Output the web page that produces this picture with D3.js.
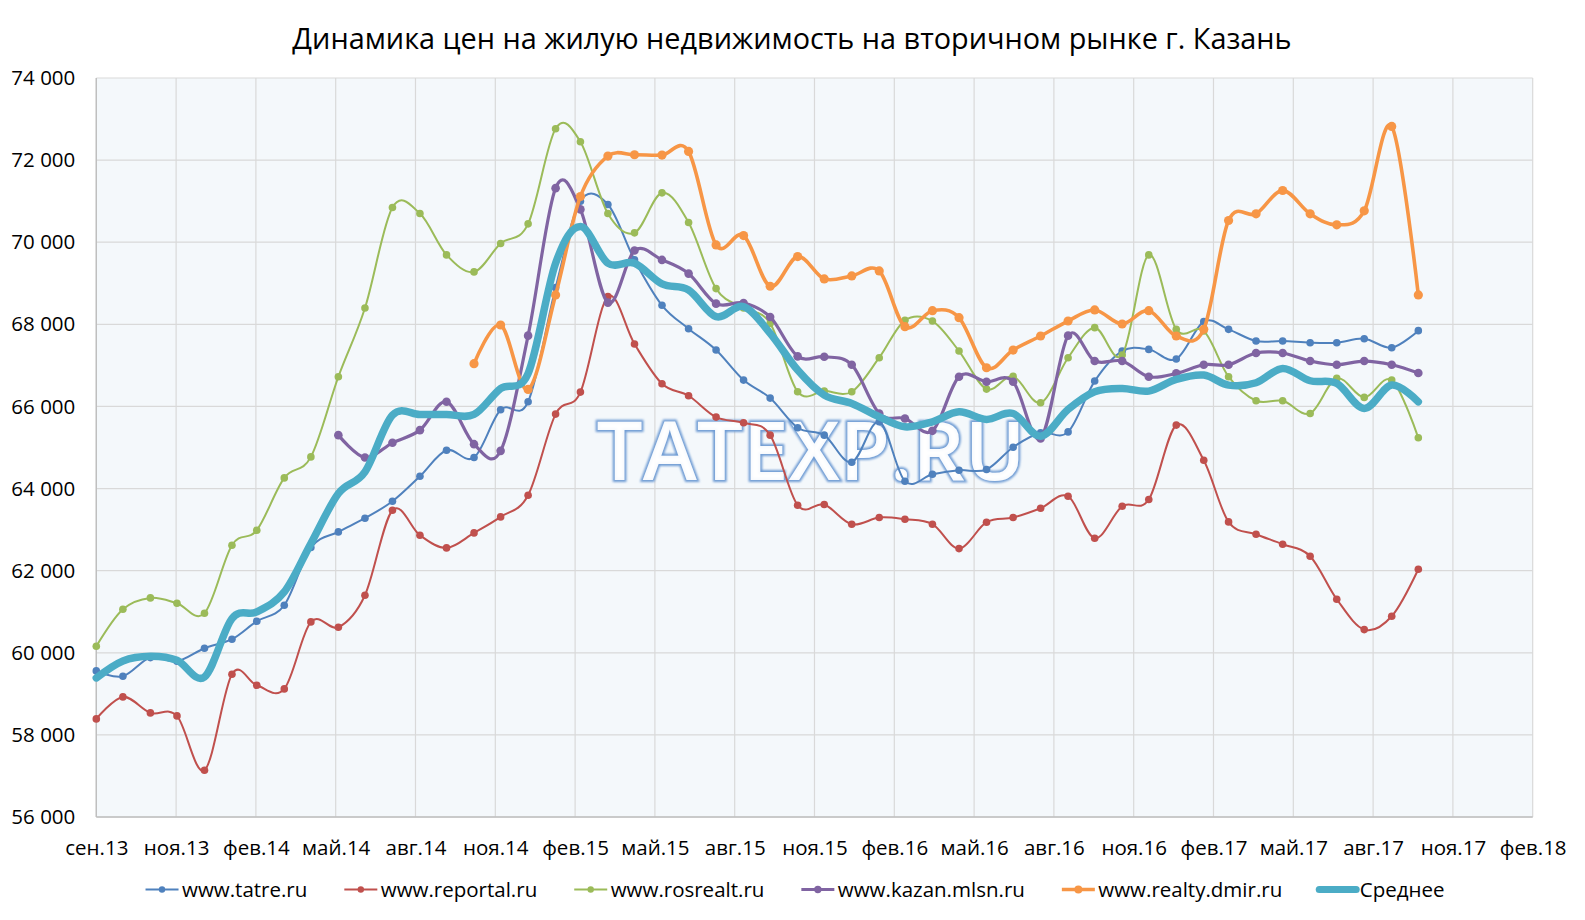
<!DOCTYPE html>
<html><head><meta charset="utf-8">
<script src="https://cdn.jsdelivr.net/npm/d3@7"></script>
<style>
body{margin:0;background:#fff}
svg{display:block}
text{font-family:'Open Sans',sans-serif}
</style>
</head><body>
<svg id="c" width="1585" height="920"></svg>
<script>
// ---------- DATA ----------
const months = ["2013-09","2013-10","2013-11","2013-12","2014-01","2014-02","2014-03","2014-04","2014-05","2014-06",
"2014-07","2014-08","2014-09","2014-10","2014-11","2014-12","2015-01","2015-02","2015-03","2015-04",
"2015-05","2015-06","2015-07","2015-08","2015-09","2015-10","2015-11","2015-12","2016-01","2016-02",
"2016-03","2016-04","2016-05","2016-06","2016-07","2016-08","2016-09","2016-10","2016-11","2016-12",
"2017-01","2017-02","2017-03","2017-04","2017-05","2017-06","2017-07","2017-08","2017-09","2017-10"];

const tatre = [59558,59428,59883,59794,60110,60330,60768,61158,62563,62944,
63277,63691,64300,64934,64755,65919,66114,68894,71000,70919,
69569,68463,67894,67374,66642,66203,65480,65301,64641,65626,
64179,64349,64447,64463,65007,65360,65380,66618,67350,67390,
67155,68065,67878,67594,67594,67553,67553,67650,67431,67846];

const reportal = [58389,58925,58535,58462,57139,59478,59209,59120,60752,60622,
61402,63472,62863,62555,62920,63310,63838,65813,66350,68675,
67520,66553,66260,65740,65602,65301,63594,63610,63131,63294,
63253,63131,62538,63180,63294,63521,63813,62790,63570,63732,
65545,64690,63188,62888,62644,62352,61304,60565,60890,62035];

const rosrealt = [60159,61060,61337,61207,60963,62620,62985,64260,64771,66724,
68398,70846,70699,69691,69277,69968,70447,72764,72447,70699,
70228,71203,70480,68870,68400,68024,66358,66374,66358,67187,
68098,68081,67350,66423,66732,66090,67187,67919,67252,69691,
67878,67837,66724,66138,66138,65829,66683,66220,66642,65236];

const kazanMlsn = [null,null,null,null,null,null,null,null,null,65301,
64755,65114,65423,66114,65081,64918,67724,71317,70800,68528,
69797,69569,69236,68504,68520,68179,67220,67211,67016,65829,
65707,65406,66724,66602,66602,65220,67724,67106,67106,66724,
66805,67016,67016,67301,67301,67106,67016,67106,67016,66813];

const realtyDmir = [null,null,null,null,null,null,null,null,null,null,
null,null,null,null,67041,67984,66415,68716,71114,72098,
72130,72122,72211,69935,70163,68927,69650,69106,69179,69301,
67943,68333,68163,66943,67374,67716,68081,68350,68008,68333,
67716,67878,70529,70691,71260,70691,70423,70764,72821,68716];

const average = [59388,59802,59916,59818,59412,60833,60996,61483,62660,63878,
64406,65789,65805,65805,65805,66439,66805,69488,70382,69488,
69488,68984,68838,68187,68431,67781,66886,66276,66073,65748,
65504,65626,65870,65683,65829,65276,65927,66358,66439,66374,
66659,66764,66520,66577,66927,66626,66561,65951,66520,66114];

const seriesNames = ["www.tatre.ru","www.reportal.ru","www.rosrealt.ru","www.kazan.mlsn.ru","www.realty.dmir.ru","Среднее"];
const yTicks = [56000,58000,60000,62000,64000,66000,68000,70000,72000,74000];
const monthAbbr = ["янв","фев","мар","апр","май","июн","июл","авг","сен","окт","ноя","дек"];
const titleText = "Динамика цен на жилую недвижимость на вторичном рынке г. Казань";
const watermarkText = "TATEXP.RU";

// ---------- STYLE / LAYOUT ----------
const styles = [
  {color:"#4F81BD", width:2,   r:3.8},
  {color:"#C0504D", width:2,   r:3.8},
  {color:"#9BBB59", width:2,   r:3.8},
  {color:"#8064A2", width:3.2, r:4.3},
  {color:"#F79646", width:3.6, r:4.6},
  {color:"#4BACC6", width:7.5, r:0}
];
const seriesValues = [tatre, reportal, rosrealt, kazanMlsn, realtyDmir, average];

const svg = d3.select("#c");
const P = {left:96.3, right:1532.7, top:78, bottom:817};
const parse = d3.utcParse("%Y-%m");
const dates = months.map(parse);
const start = dates[0];
const tickDates = d3.range(19).map(i => d3.utcDay.offset(start, 90*i));

const x = d3.scaleUtc().domain([start, tickDates[tickDates.length-1]]).range([P.left, P.right]);
const y = d3.scaleLinear().domain([56000, 74000]).range([P.bottom, P.top]);

// plot background
svg.append("rect").attr("x",P.left).attr("y",P.top)
  .attr("width",P.right-P.left).attr("height",P.bottom-P.top).attr("fill","#F4F8FB");

// grid
const grid = svg.append("g").attr("stroke","#D9D9D9").attr("stroke-width",1.2);
grid.selectAll("line.h").data(yTicks).join("line")
  .attr("x1",P.left).attr("x2",P.right).attr("y1",d=>y(d)).attr("y2",d=>y(d));
grid.selectAll("line.v").data(tickDates).join("line")
  .attr("y1",P.top).attr("y2",P.bottom).attr("x1",d=>x(d)).attr("x2",d=>x(d));

// axes borders
svg.append("line").attr("x1",P.left).attr("x2",P.left).attr("y1",P.top).attr("y2",P.bottom)
  .attr("stroke","#BFBFBF").attr("stroke-width",1.4);
svg.append("line").attr("x1",P.left).attr("x2",P.right).attr("y1",P.bottom).attr("y2",P.bottom)
  .attr("stroke","#BFBFBF").attr("stroke-width",1.4);

// y axis labels
const fmtNum = v => d3.format(",")(v).replace(/,/g, "\u00A0");
const yAxis = d3.axisLeft(y).tickValues(yTicks).tickFormat(fmtNum).tickSize(0).tickPadding(21);
const gy = svg.append("g").attr("transform",`translate(${P.left},0)`).call(yAxis);
gy.select(".domain").remove();
gy.selectAll("text").attr("font-size",20.5).attr("font-family","'Open Sans',sans-serif").style("fill","#000");

// x axis labels
const fmtDate = d => monthAbbr[d.getUTCMonth()] + "." + String(d.getUTCFullYear()).slice(2);
const xAxis = d3.axisBottom(x).tickValues(tickDates).tickFormat(fmtDate).tickSize(0).tickPadding(23);
const gx = svg.append("g").attr("transform",`translate(0,${P.bottom})`).call(xAxis);
gx.select(".domain").remove();
gx.selectAll("text").attr("font-size",20.5).attr("font-family","'Open Sans',sans-serif").style("fill","#000");

// watermark
const defs = svg.append("defs");
defs.append("filter").attr("id","blur").append("feGaussianBlur").attr("stdDeviation",1.1);
const wmG = svg.append("g");
wmG.append("text").text(watermarkText)
  .attr("x",811).attr("y",480).attr("text-anchor","middle")
  .attr("font-size",82).attr("font-weight",600)
  .attr("textLength",429).attr("lengthAdjust","spacingAndGlyphs")
  .style("fill","none").style("stroke","#6F9CD4").style("stroke-width",4)
  .attr("filter","url(#blur)");
wmG.append("text").text(watermarkText)
  .attr("x",811).attr("y",480).attr("text-anchor","middle")
  .attr("font-size",82).attr("font-weight",600)
  .attr("textLength",429).attr("lengthAdjust","spacingAndGlyphs")
  .style("fill","#FFFFFF").style("fill-opacity",0.95);

// lines
const line = d3.line()
  .defined(d => d.v != null)
  .x(d => x(d.date)).y(d => y(d.v))
  .curve(d3.curveCatmullRom.alpha(0));

seriesValues.forEach((vals, si) => {
  const st = styles[si];
  const pts = vals.map((v,i) => ({date:dates[i], v}));
  const g = svg.append("g");
  g.append("path").datum(pts).attr("d",line)
    .attr("fill","none").attr("stroke",st.color).attr("stroke-width",st.width)
    .attr("stroke-linejoin","round").attr("stroke-linecap","round");
  if (st.r > 0) {
    g.selectAll("circle").data(pts.filter(d => d.v != null)).join("circle")
      .attr("cx",d=>x(d.date)).attr("cy",d=>y(d.v)).attr("r",st.r).attr("fill",st.color);
  }
});

// title
const title = svg.append("text").text(titleText)
  .attr("x",792).attr("y",49).attr("text-anchor","middle").attr("font-size",30).style("fill","#000");
const tl = title.node().getComputedTextLength();
title.attr("font-size", 30*1000/tl);

// legend
const legend = svg.append("g");
const items = seriesNames.map((name, i) => {
  const g = legend.append("g");
  const t = g.append("text").text(name).attr("font-size",20.5).attr("y",897).style("fill","#000");
  return {g, t, w: t.node().getComputedTextLength(), i};
});
const lineLen = 33, textGap = 3.5, itemGap = 37;
const total = d3.sum(items, d => lineLen + textGap + d.w) + itemGap*(items.length-1);
let cx = 793 - total/2;
items.forEach(d => {
  const st = styles[d.i];
  const ll = d.i === 5 ? 37 : lineLen;
  d.g.append("line").attr("x1",cx).attr("x2",cx+ll).attr("y1",889.5).attr("y2",889.5)
    .attr("stroke",st.color).attr("stroke-width",d.i===5?7:(st.width)).attr("stroke-linecap",d.i===5?"round":"butt");
  if (st.r > 0) d.g.append("circle").attr("cx",cx+ll/2).attr("cy",889.5).attr("r",st.r-0.6).attr("fill",st.color);
  d.t.attr("x", cx + ll + textGap);
  cx += ll + textGap + d.w + itemGap;
});
</script>
</body></html>
